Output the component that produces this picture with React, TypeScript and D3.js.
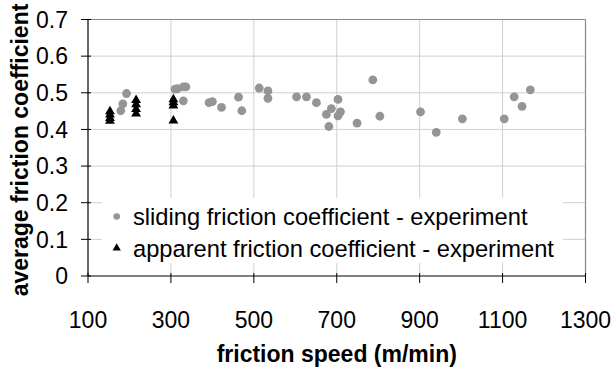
import React from "react";
import * as d3 from "d3";

const slidingX = [179, 184, 193, 310, 316, 330, 336, 330, 392, 400, 422, 463, 471, 513, 534, 534, 603, 627, 651, 675, 687, 703, 709, 703, 681, 749, 787, 804, 902, 940, 1003, 1104, 1128, 1147, 1167];
const slidingY = [0.451, 0.47, 0.498, 0.51, 0.511, 0.516, 0.516, 0.478, 0.473, 0.476, 0.46, 0.488, 0.451, 0.513, 0.505, 0.485, 0.489, 0.489, 0.473, 0.441, 0.457, 0.482, 0.448, 0.437, 0.408, 0.417, 0.535, 0.436, 0.448, 0.392, 0.429, 0.429, 0.489, 0.463, 0.508];

const apparentX = [153, 153, 153, 153, 216, 216, 216, 216, 306, 306, 306, 306];
const apparentY = [0.449, 0.44, 0.431, 0.423, 0.48, 0.468, 0.455, 0.443, 0.482, 0.474, 0.465, 0.424];

const xTicks = [100, 300, 500, 700, 900, 1100, 1300];
const yTicks = [0, 0.1, 0.2, 0.3, 0.4, 0.5, 0.6, 0.7];
const legendLabels = ["sliding friction coefficient - experiment", "apparent friction coefficient - experiment"];
const xTitle = "friction speed (m/min)";
const yTitle = "average friction coefficient";

const W = 614;
const H = 369;
const FONT = "'Liberation Sans', Arial, sans-serif";

export default function App() {
  const x = d3.scaleLinear().domain([100, 1300]).range([88, 585.5]);
  const y = d3.scaleLinear().domain([0, 0.7]).range([276, 19.5]);
  const [x0, x1] = x.range();
  const [y0, y1] = y.range();
  const tri = d3.symbol().type(d3.symbolTriangle).size(42)() as string;
  const triSmall = d3.symbol().type(d3.symbolTriangle).size(30)() as string;

  return (
    <svg width={W} height={H} style={{ position: "absolute", left: 0, top: 0, background: "#fff" }} fontFamily={FONT}>
      {/* grid */}
      {yTicks.filter((t) => t > 0 && t < 0.7).map((t) => (
        <line key={"gy" + t} x1={x0} x2={x1} y1={y(t)} y2={y(t)} stroke="#d0d0d0" strokeWidth={1} />
      ))}
      {xTicks.filter((t) => t > 100 && t < 1300).map((t) => (
        <line key={"gx" + t} x1={x(t)} x2={x(t)} y1={y0} y2={y1} stroke="#d0d0d0" strokeWidth={1} />
      ))}
      {/* border top/right */}
      <line x1={x0} x2={x1} y1={y1} y2={y1} stroke="#888" strokeWidth={1.2} />
      <line x1={x1} x2={x1} y1={y1} y2={y0} stroke="#888" strokeWidth={1.2} />
      {/* legend box */}
      <rect x={102} y={198} width={461} height={65} fill="#fff" />
      {/* points */}
      {slidingX.map((v, i) => (
        <circle key={"s" + i} cx={x(v)} cy={y(slidingY[i])} r={4.4} fill="#959595" />
      ))}
      {apparentX.map((v, i) => (
        <path key={"a" + i} d={tri} transform={`translate(${x(v)},${y(apparentY[i])})`} fill="#000" />
      ))}
      {/* axes */}
      <line x1={x0} x2={x0} y1={y1} y2={y0} stroke="#000" strokeWidth={1.2} />
      <line x1={x0} x2={x1} y1={y0} y2={y0} stroke="#000" strokeWidth={1.2} />
      {yTicks.map((t) => (
        <g key={"yt" + t}>
          <line x1={x0 - 7} x2={x0 + 3} y1={y(t)} y2={y(t)} stroke="#000" strokeWidth={1} />
          <text x={68} y={y(t)} dy="0.36em" textAnchor="end" fontSize={23} fill="#000">
            {t === 0 ? "0" : t.toFixed(1)}
          </text>
        </g>
      ))}
      {xTicks.map((t) => (
        <g key={"xt" + t}>
          <line x1={x(t)} x2={x(t)} y1={y0 - 3} y2={y0 + 7} stroke="#000" strokeWidth={1} />
          <text x={x(t)} y={328} textAnchor="middle" fontSize={23} fill="#000">
            {t}
          </text>
        </g>
      ))}
      {/* titles */}
      <text x={(x0 + x1) / 2} y={362} textAnchor="middle" fontSize={23} fontWeight="bold" fill="#000">
        {xTitle}
      </text>
      <text transform={`translate(28,150) rotate(-90)`} textAnchor="middle" fontSize={23} fontWeight="bold" fill="#000">
        {yTitle}
      </text>
      {/* legend */}
      <circle cx={116.7} cy={216.5} r={3.3} fill="#959595" />
      <path d={triSmall} transform={`translate(116.7,248)`} fill="#000" />
      <text x={133} y={216.5} dy="0.36em" fontSize={23.7} fill="#000">{legendLabels[0]}</text>
      <text x={133} y={248.5} dy="0.36em" fontSize={23.7} fill="#000">{legendLabels[1]}</text>
    </svg>
  );
}
